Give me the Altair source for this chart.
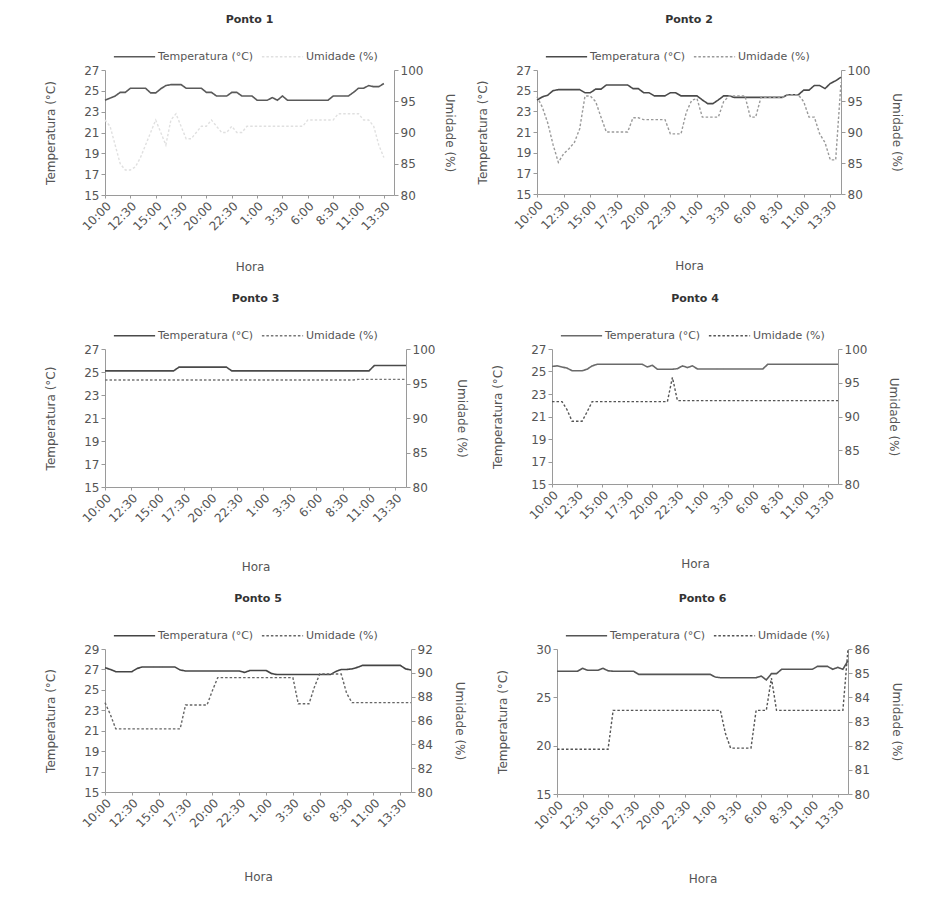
import json
import altair as alt
import pandas as pd

FONT = "DejaVu Sans"
SERIES = ["Temperatura (°C)", "Umidade (%)"]
TICK_LABELS = ["10:00", "12:30", "15:00", "17:30", "20:00", "22:30",
               "1:00", "3:30", "6:00", "8:30", "11:00", "13:30"]
TICK_POS = [0, 5, 10, 15, 20, 25, 30, 35, 40, 45, 50, 55]

P1_TEMP = [24.1, 24.3, 24.5, 24.85, 24.85, 25.25, 25.25, 25.25, 25.25, 24.8,
           24.8, 25.2, 25.5, 25.6, 25.6, 25.6, 25.25, 25.25, 25.25, 25.25,
           24.85, 24.85, 24.5, 24.5, 24.5, 24.85, 24.85, 24.5, 24.5, 24.5,
           24.1, 24.1, 24.1, 24.35, 24.1, 24.5, 24.1, 24.1, 24.1, 24.1,
           24.1, 24.1, 24.1, 24.1, 24.1, 24.5, 24.5, 24.5, 24.5, 24.85,
           25.25, 25.25, 25.5, 25.4, 25.4, 25.7]
P1_UMID = [92, 91, 88, 85, 84, 84, 84.5, 86, 88, 90,
           92, 90, 88, 92, 93, 91, 89, 89, 90, 91,
           91, 92, 91, 90, 90, 91, 90, 90, 91, 91,
           91, 91, 91, 91, 91, 91, 91, 91, 91, 91,
           92, 92, 92, 92, 92, 92, 93, 93, 93, 93,
           93, 92, 92, 91, 88, 86]

P2_TEMP = [24.1, 24.4, 24.56, 25.0, 25.1, 25.1, 25.1, 25.1, 25.1, 24.8,
           24.8, 25.15, 25.15, 25.55, 25.55, 25.55, 25.55, 25.55, 25.2, 25.2,
           24.8, 24.8, 24.5, 24.5, 24.5, 24.8, 24.8, 24.5, 24.5, 24.5,
           24.5, 24.1, 23.75, 23.75, 24.1, 24.5, 24.5, 24.35, 24.35, 24.35,
           24.35, 24.35, 24.35, 24.35, 24.35, 24.35, 24.35, 24.6, 24.6, 24.6,
           25.05, 25.05, 25.5, 25.5, 25.2, 25.7, 25.96, 26.3]
P2_UMID = [95.7, 94.0, 91.5, 88.0, 85.1, 86.5, 87.3, 88.3, 90.5, 95.8,
           95.8, 94.9, 92.4, 90.0, 90.0, 90.0, 90.0, 90.0, 92.3, 92.3,
           92.0, 92.0, 92.0, 92.0, 92.0, 89.7, 89.7, 89.7, 93.2, 95.1,
           95.4, 92.4, 92.4, 92.4, 92.4, 94.9, 95.8, 95.8, 95.8, 95.8,
           92.4, 92.4, 95.6, 95.6, 95.6, 95.6, 95.6, 96.0, 96.0, 96.0,
           94.9, 92.4, 92.4, 89.7, 88.3, 85.5, 85.5, 98.0]

P3_TEMP = [25.1, 25.1, 25.1, 25.1, 25.1, 25.1, 25.1, 25.1, 25.1, 25.1,
           25.1, 25.1, 25.1, 25.1, 25.42, 25.42, 25.42, 25.42, 25.42, 25.42,
           25.42, 25.42, 25.42, 25.42, 25.1, 25.1, 25.1, 25.1, 25.1, 25.1,
           25.1, 25.1, 25.1, 25.1, 25.1, 25.1, 25.1, 25.1, 25.1, 25.1,
           25.1, 25.1, 25.1, 25.1, 25.1, 25.1, 25.1, 25.1, 25.1, 25.1,
           25.1, 25.56, 25.56, 25.56, 25.56, 25.56, 25.56, 25.56]
P3_UMID = [95.5, 95.5, 95.5, 95.5, 95.5, 95.5, 95.5, 95.5, 95.5, 95.5,
           95.5, 95.5, 95.5, 95.5, 95.5, 95.5, 95.5, 95.5, 95.5, 95.5,
           95.5, 95.5, 95.5, 95.5, 95.5, 95.5, 95.5, 95.5, 95.5, 95.5,
           95.5, 95.5, 95.5, 95.5, 95.5, 95.5, 95.5, 95.5, 95.5, 95.5,
           95.5, 95.5, 95.5, 95.5, 95.5, 95.5, 95.5, 95.5, 95.6, 95.6,
           95.6, 95.6, 95.6, 95.6, 95.6, 95.6, 95.6, 95.6]

P4_TEMP = [25.45, 25.5, 25.4, 25.3, 25.07, 25.07, 25.07, 25.2, 25.5, 25.64,
           25.64, 25.64, 25.64, 25.64, 25.64, 25.64, 25.64, 25.64, 25.64, 25.4,
           25.55, 25.2, 25.2, 25.2, 25.2, 25.25, 25.5, 25.35, 25.5, 25.22,
           25.22, 25.22, 25.22, 25.22, 25.22, 25.22, 25.22, 25.22, 25.22, 25.22,
           25.22, 25.22, 25.22, 25.64, 25.64, 25.64, 25.64, 25.64, 25.64, 25.64,
           25.64, 25.64, 25.64, 25.64, 25.64, 25.64, 25.64, 25.64]
P4_UMID = [92.2, 92.2, 92.2, 91.0, 89.3, 89.3, 89.3, 90.7, 92.2, 92.2,
           92.2, 92.2, 92.2, 92.2, 92.2, 92.2, 92.2, 92.2, 92.2, 92.2,
           92.2, 92.2, 92.2, 92.2, 95.8, 92.35, 92.35, 92.35, 92.35, 92.35,
           92.35, 92.35, 92.35, 92.35, 92.35, 92.35, 92.35, 92.35, 92.35, 92.35,
           92.35, 92.35, 92.35, 92.35, 92.35, 92.35, 92.35, 92.35, 92.35, 92.35,
           92.35, 92.35, 92.35, 92.35, 92.35, 92.35, 92.35, 92.35]

P5_TEMP = [27.17, 27.0, 26.78, 26.78, 26.78, 26.78, 27.1, 27.24, 27.24, 27.24,
           27.24, 27.24, 27.24, 27.24, 26.95, 26.85, 26.85, 26.85, 26.85, 26.85,
           26.85, 26.85, 26.85, 26.85, 26.85, 26.85, 26.7, 26.9, 26.9, 26.9,
           26.9, 26.6, 26.5, 26.5, 26.5, 26.5, 26.5, 26.5, 26.5, 26.5,
           26.5, 26.5, 26.5, 26.8, 27.0, 27.0, 27.05, 27.2, 27.4, 27.4,
           27.4, 27.4, 27.4, 27.4, 27.4, 27.4, 27.05, 26.95]
P5_UMID = [87.5, 86.5, 85.3, 85.3, 85.3, 85.3, 85.3, 85.3, 85.3, 85.3,
           85.3, 85.3, 85.3, 85.3, 85.3, 87.3, 87.3, 87.3, 87.3, 87.3,
           88.5, 89.6, 89.6, 89.6, 89.6, 89.6, 89.6, 89.6, 89.6, 89.6,
           89.6, 89.6, 89.6, 89.6, 89.6, 89.6, 87.4, 87.4, 87.4, 88.8,
           89.9, 89.9, 89.9, 89.9, 89.9, 88.3, 87.5, 87.5, 87.5, 87.5,
           87.5, 87.5, 87.5, 87.5, 87.5, 87.5, 87.5, 87.5]

P6_TEMP = [27.7, 27.7, 27.7, 27.7, 27.7, 28.0, 27.8, 27.8, 27.8, 28.0,
           27.75, 27.7, 27.7, 27.7, 27.7, 27.7, 27.38, 27.38, 27.38, 27.38,
           27.38, 27.38, 27.38, 27.38, 27.38, 27.38, 27.38, 27.38, 27.38, 27.38,
           27.38, 27.1, 27.03, 27.03, 27.03, 27.03, 27.03, 27.03, 27.03, 27.03,
           27.2, 26.8, 27.45, 27.45, 27.9, 27.9, 27.9, 27.9, 27.9, 27.9,
           27.9, 28.2, 28.2, 28.2, 27.9, 28.1, 27.9, 28.8]
P6_UMID = [81.85, 81.85, 81.85, 81.85, 81.85, 81.85, 81.85, 81.85, 81.85, 81.85,
           81.85, 83.46, 83.46, 83.46, 83.46, 83.46, 83.46, 83.46, 83.46, 83.46,
           83.46, 83.46, 83.46, 83.46, 83.46, 83.46, 83.46, 83.46, 83.46, 83.46,
           83.46, 83.46, 83.46, 82.5, 81.9, 81.9, 81.9, 81.9, 81.9, 83.46,
           83.46, 83.46, 84.8, 83.46, 83.46, 83.46, 83.46, 83.46, 83.46, 83.46,
           83.46, 83.46, 83.46, 83.46, 83.46, 83.46, 83.46, 86.0]

LABEL_EXPR = json.dumps(TICK_LABELS).replace('"', "'") + "[round(datum.value / 5)]"


def panel(title, temp, umid, tdom, tvals, udom, uvals, colors, w, h, xpad):
    rows = [{"i": k, "v": v, "s": SERIES[0]} for k, v in enumerate(temp)]
    rows += [{"i": k, "v": v, "s": SERIES[1]} for k, v in enumerate(umid)]
    df = pd.DataFrame(rows)
    leg = alt.Legend(title=None, orient="none", legendX=8, legendY=-35,
                     direction="horizontal", symbolType="stroke",
                     symbolSize=1700, symbolStrokeWidth=1.5,
                     labelFont=FONT, labelFontSize=11, labelColor="#555",
                     labelOffset=2, columnPadding=4)
    color = alt.Color("s:N", scale=alt.Scale(domain=SERIES, range=colors), legend=leg)
    dash = alt.StrokeDash("s:N", scale=alt.Scale(domain=SERIES, range=[[1, 0], [2.5, 2]]),
                          legend=leg)
    x = alt.X("i:Q", scale=alt.Scale(domain=[0, 57], nice=False, zero=False),
              axis=alt.Axis(values=TICK_POS, labelExpr=LABEL_EXPR, title="Hora",
                            labelAngle=-45, labelOverlap=False, titlePadding=xpad,
                            tickSize=3))
    base = alt.Chart(df)
    t = base.transform_filter(alt.datum.s == SERIES[0]).mark_line(strokeWidth=1.6).encode(
        x=x,
        y=alt.Y("v:Q", scale=alt.Scale(domain=tdom, nice=False, zero=False),
                axis=alt.Axis(values=tvals, title=SERIES[0], orient="left",
                              titlePadding=26)),
        color=color, strokeDash=dash)
    u = base.transform_filter(alt.datum.s == SERIES[1]).mark_line(strokeWidth=1.4).encode(
        x=x,
        y=alt.Y("v:Q", scale=alt.Scale(domain=udom, nice=False, zero=False),
                axis=alt.Axis(values=uvals, title=SERIES[1], orient="right",
                              titlePadding=20)),
        color=color, strokeDash=dash)
    return alt.layer(t, u).resolve_scale(y="independent").properties(
        width=w, height=h,
        title=alt.TitleParams(title, anchor="middle", frame="group", offset=10))


T1 = [15, 17, 19, 21, 23, 25, 27]
U1 = [80, 85, 90, 95, 100]

p1 = panel("Ponto 1", P1_TEMP, P1_UMID, [15, 27], T1, [80, 100], U1,
           ["#5a5a5a", "#e0e0e0"], 289, 125, 29)
p2 = panel("Ponto 2", P2_TEMP, P2_UMID, [15, 27], T1, [80, 100], U1,
           ["#4a4a4a", "#9a9a9a"], 304, 124, 29)
p3 = panel("Ponto 3", P3_TEMP, P3_UMID, [15, 27], T1, [80, 100], U1,
           ["#4a4a4a", "#777777"], 301, 138, 37)
p4 = panel("Ponto 4", P4_TEMP, P4_UMID, [15, 27], T1, [80, 100], U1,
           ["#6a6a6a", "#555555"], 286, 135, 37)
p5 = panel("Ponto 5", P5_TEMP, P5_UMID, [15, 29], [15, 17, 19, 21, 23, 25, 27, 29],
           [80, 92], [80, 82, 84, 86, 88, 90, 92],
           ["#444444", "#666666"], 306, 143, 42)
p6 = panel("Ponto 6", P6_TEMP, P6_UMID, [15, 30], [15, 20, 25, 30],
           [80, 86], [80, 81, 82, 83, 84, 85, 86],
           ["#555555", "#555555"], 291, 145, 42)

indep = dict(color="independent", strokeDash="independent")
row1 = alt.hconcat(p1, p2, spacing=20).resolve_scale(**indep)
row2 = alt.hconcat(p3, p4, spacing=23).resolve_scale(**indep)
row3 = alt.hconcat(p5, p6, spacing=30).resolve_scale(**indep)

chart = alt.vconcat(row1, row2, row3, spacing=20).resolve_scale(**indep).configure_view(
    stroke=None
).configure_axis(
    grid=False, domainColor="#9a9a9a", tickColor="#9a9a9a", labelColor="#555",
    titleColor="#555", labelFont=FONT, titleFont=FONT, labelFontSize=12,
    titleFontSize=12, titleFontWeight="normal", tickSize=4
).configure_title(
    font=FONT, fontSize=11, fontWeight="bold", color="#333"
).properties(
    background="white",
    padding={"left": 36, "top": 6, "right": 5, "bottom": 5}
)

chart.save("out.html", embed_options={"renderer": "svg", "actions": False})
